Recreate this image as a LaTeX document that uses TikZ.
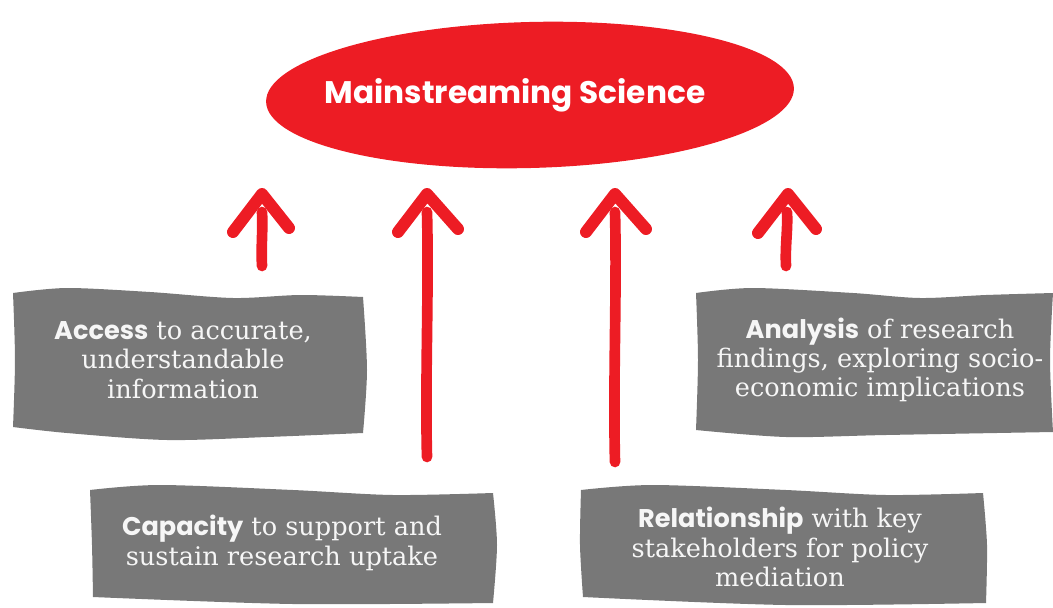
\documentclass[tikz,border=0pt]{standalone}
\usepackage{fontspec}
\setmainfont{DejaVu Serif}
\newfontfamily\headfont{Poppins}
\definecolor{msred}{RGB}{237,28,36}
\definecolor{boxgray}{RGB}{120,120,120}
\definecolor{boxtextcol}{RGB}{246,246,246}
\tikzset{every picture/.style={line width=0.75pt}}
\tikzset{
  greybox/.style={draw=none,fill=boxgray},
  boxtext/.style={inner sep=0.75pt,align=center,text=boxtextcol,font=\fontsize{19.2}{21.9}\selectfont},
  redshaft/.style={draw=msred,line width=8pt,line cap=round},
  redbarb/.style={draw=msred,line width=9pt,line cap=round,line join=round}
}
\newcommand{\bw}[1]{{\headfont\bfseries #1}}

\begin{document}
\begin{tikzpicture}[x=0.75pt,y=0.75pt,yscale=-1,xscale=1]
\path[use as bounding box] (0,0) rectangle (1053,607);
%Shape: Ellipse [id:mainstream]
\fill [msred,rotate around={-1.5:(530,95)}] (530,95) ellipse [x radius=264, y radius=73] ;
% Text Node
\node (ms) at (515,103) [anchor=base,inner sep=0.75pt,text=white,font=\headfont\bfseries\fontsize{23.4}{27}\selectfont] {Mainstreaming Science};

%Shape: Wavy Box [id:access]
\path [greybox] (13,293) -- plot [smooth] coordinates {(13,293) (67,288) (150,292) (233,298) (300,295) (363,297)} -- plot [smooth] coordinates {(363,297) (367,370) (363,433)} -- plot [smooth] coordinates {(363,433) (267,437) (167,440) (67,433) (13,427)} -- plot [smooth] coordinates {(13,427) (15,360) (13,293)} -- cycle ;
% Text Node
\node (access) at (183,360) [boxtext] {\bw{Access} to accurate,\\ understandable\\ information};

%Shape: Wavy Box [id:analysis]
\path [greybox] (696,293) -- plot [smooth] coordinates {(696,293) (753,288) (853,293) (920,298) (986,295) (1053,293)} -- plot [smooth] coordinates {(1053,293) (1050,360) (1053,432)} -- plot [smooth] coordinates {(1053,432) (886,435) (786,437) (696,430)} -- plot [smooth] coordinates {(696,430) (698,360) (696,293)} -- cycle ;
% Text Node
\node (analysis) at (880,360) [boxtext] {\bw{Analysis} of research\\ findings, exploring socio-\\ economic implications};

%Shape: Wavy Box [id:capacity]
\path [greybox] (90,490) -- plot [smooth] coordinates {(90,490) (160,485) (293,490) (393,495) (493,493)} -- plot [smooth] coordinates {(493,493) (497,545) (493,603)} -- plot [smooth] coordinates {(493,603) (293,604) (93,597)} -- plot [smooth] coordinates {(93,597) (92,545) (90,490)} -- cycle ;
% Text Node
\node (capacity) at (282,543) [boxtext] {\bw{Capacity} to support and\\ sustain research uptake};

%Shape: Wavy Box [id:relation]
\path [greybox] (581,490) -- plot [smooth] coordinates {(581,490) (653,485) (786,490) (886,495) (983,493)} -- plot [smooth] coordinates {(983,493) (987,545) (986,603)} -- plot [smooth] coordinates {(986,603) (786,605) (583,597)} -- plot [smooth] coordinates {(583,597) (580,545) (581,490)} -- cycle ;
% Text Node
\node (relation) at (780,547) [boxtext] {\bw{Relationship} with key\\ stakeholders for policy\\ mediation};

%Arrows
\coordinate (accTail) at (262,266);
\coordinate (accHead) at (262,212);
\coordinate (accTip) at (262,194);
\coordinate (capTail) at (427,457);
\coordinate (capHead) at (427,212);
\coordinate (capTip) at (427,194);
\coordinate (relTail) at (615,462);
\coordinate (relHead) at (615,212);
\coordinate (relTip) at (615,194);
\coordinate (anaTail) at (786,266);
\coordinate (anaHead) at (787,212);
\coordinate (anaTip) at (788,194);
%Straight Lines
\draw [redshaft] (accTail) .. controls (261,245) and (263,230) .. (accHead) ;
\draw [redbarb] (233,232) -- (accTip) -- (289,228) ;
%Straight Lines
\draw [redshaft] (capTail) .. controls (425,380) and (429,290) .. (capHead) ;
\draw [redbarb] (398,232) -- (capTip) -- (458,229) ;
%Straight Lines
\draw [redshaft] (relTail) .. controls (613,380) and (617,290) .. (relHead) ;
\draw [redbarb] (586,232) -- (relTip) -- (646,229) ;
%Straight Lines
\draw [redshaft] (anaTail) .. controls (785,245) and (788,230) .. (anaHead) ;
\draw [redbarb] (758,233) -- (anaTip) -- (816,229) ;
\end{tikzpicture}
\end{document}
